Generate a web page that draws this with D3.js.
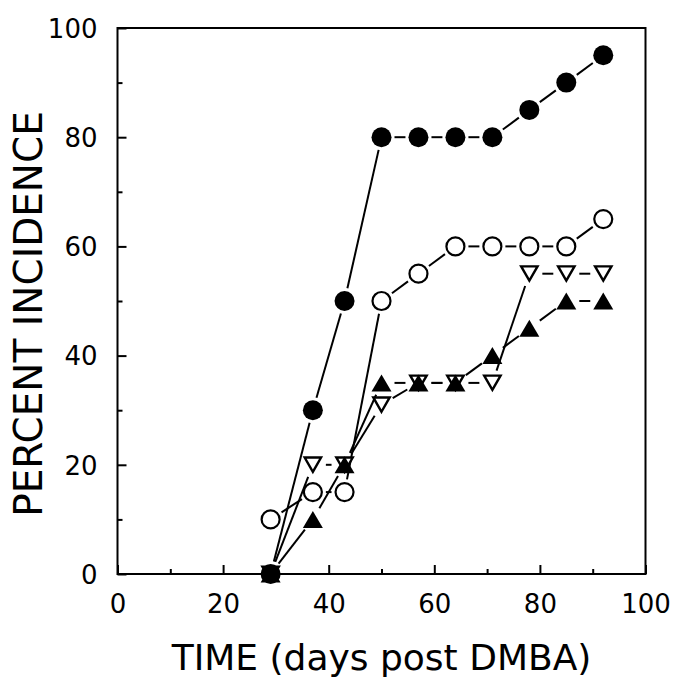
<!DOCTYPE html>
<html>
<head>
<meta charset="utf-8">
<script src="https://cdn.jsdelivr.net/npm/d3@7"></script>
<style>
  html, body { margin: 0; padding: 0; background: #fff; }
  svg { display: block; }
  text { font-family: "DejaVu Sans", "Liberation Sans", sans-serif; fill: #000; }
</style>
</head>
<body>
<svg id="chart" width="676" height="681"></svg>
<script>
// ---- data ----
const days           = [29, 37, 43, 50, 57, 64, 71, 78, 85, 92];
const filledCircle   = [0, 30, 50, 80, 80, 80, 80, 85, 90, 95];
const openCircle     = [10, 15, 15, 50, 55, 60, 60, 60, 60, 65];
const openTriangle   = [0, 20, 20, 31, 35, 35, 35, 55, 55, 55];
const filledTriangle = [0, 10, 20, 35, 35, 35, 40, 45, 50, 50];

const xMajorTicks = [0, 20, 40, 60, 80, 100];
const xMinorTicks = [10, 30, 50, 70, 90];
const yMajorTicks = [0, 20, 40, 60, 80, 100];
const yMinorTicks = [10, 30, 50, 70, 90];

const xTitle = "TIME (days post DMBA)";
const yTitle = "PERCENT INCIDENCE";

// ---- layout ----
const svg = d3.select("#chart");
const plotL = 117.5, plotR = 645.5, plotT = 28, plotB = 574;

const x = d3.scaleLinear().domain([0, 100]).range([plotL, plotR]);
const y = d3.scaleLinear().domain([0, 100]).range([plotB, plotT]);

// frame
svg.append("rect")
  .attr("x", plotL).attr("y", plotT)
  .attr("width", plotR - plotL).attr("height", plotB - plotT)
  .attr("fill", "none").attr("stroke", "#000").attr("stroke-width", 2);

// y axis ticks (inside)
const yMaj = svg.append("g").attr("transform", `translate(${plotL},0)`)
  .call(d3.axisLeft(y).tickValues(yMajorTicks).tickSize(-9).tickSizeOuter(0).tickPadding(20).tickFormat(d3.format("d")));
const yMin = svg.append("g").attr("transform", `translate(${plotL},0)`)
  .call(d3.axisLeft(y).tickValues(yMinorTicks).tickSize(-5).tickSizeOuter(0).tickFormat(""));

// x axis ticks (inside)
const xMaj = svg.append("g").attr("transform", `translate(0,${plotB})`)
  .call(d3.axisBottom(x).tickValues(xMajorTicks).tickSize(-9).tickSizeOuter(0).tickPadding(20).tickFormat(d3.format("d")));
const xMin = svg.append("g").attr("transform", `translate(0,${plotB})`)
  .call(d3.axisBottom(x).tickValues(xMinorTicks).tickSize(-5).tickSizeOuter(0).tickFormat(""));

[yMaj, yMin, xMaj, xMin].forEach(g => {
  g.select(".domain").remove();
  g.selectAll(".tick line").attr("stroke", "#000").attr("stroke-width", 2);
  g.selectAll(".tick text")
    .style("font-family", '"DejaVu Sans", "Liberation Sans", sans-serif')
    .style("font-size", "26px").attr("fill", "#000");
});
yMaj.selectAll(".tick text").attr("dy", "0.36em");
xMaj.selectAll(".tick text").attr("dy", "0.74em");

// titles
svg.append("text")
  .attr("x", (plotL + plotR) / 2).attr("y", 670)
  .attr("text-anchor", "middle")
  .style("font-size", "36px")
  .text(xTitle);

svg.append("text")
  .attr("transform", `translate(42,314) rotate(-90)`)
  .attr("text-anchor", "middle")
  .style("font-size", "39px")
  .text(yTitle);

// ---- series lines (segments stop short of the symbols) ----
const clearance = 13;
function drawSegments(values) {
  const pts = days.map((d, i) => [x(d), y(values[i])]);
  const g = svg.append("g");
  for (let i = 0; i < pts.length - 1; i++) {
    const [x1, y1] = pts[i], [x2, y2] = pts[i + 1];
    const len = Math.hypot(x2 - x1, y2 - y1);
    if (len <= 2 * clearance + 1) continue;
    const ux = (x2 - x1) / len, uy = (y2 - y1) / len;
    g.append("line")
      .attr("x1", x1 + ux * clearance).attr("y1", y1 + uy * clearance)
      .attr("x2", x2 - ux * clearance).attr("y2", y2 - uy * clearance)
      .attr("stroke", "#000").attr("stroke-width", 2);
  }
}
drawSegments(openTriangle);
drawSegments(openCircle);
drawSegments(filledCircle);
drawSegments(filledTriangle);

// ---- symbols ----
const triUp = "M0,-8.5L10,8.5L-10,8.5Z";
const triDownInner = "M0,7L8.2,-7.3L-8.2,-7.3Z";

svg.append("g").selectAll("path").data(days).join("path")
  .attr("transform", (d, i) => `translate(${x(d)},${y(openTriangle[i])})`)
  .attr("d", triDownInner)
  .attr("fill", "#fff").attr("stroke", "#000").attr("stroke-width", 2.4)
  .attr("stroke-linejoin", "miter");

svg.append("g").selectAll("circle").data(days).join("circle")
  .attr("cx", d => x(d)).attr("cy", (d, i) => y(openCircle[i]))
  .attr("r", 9).attr("fill", "#fff").attr("stroke", "#000").attr("stroke-width", 2.2);

svg.append("g").selectAll("circle").data(days).join("circle")
  .attr("cx", d => x(d)).attr("cy", (d, i) => y(filledCircle[i]))
  .attr("r", 10).attr("fill", "#000");

svg.append("g").selectAll("path").data(days).join("path")
  .attr("transform", (d, i) => `translate(${x(d)},${y(filledTriangle[i])})`)
  .attr("d", triUp)
  .attr("fill", "#000");
</script>
</body>
</html>
